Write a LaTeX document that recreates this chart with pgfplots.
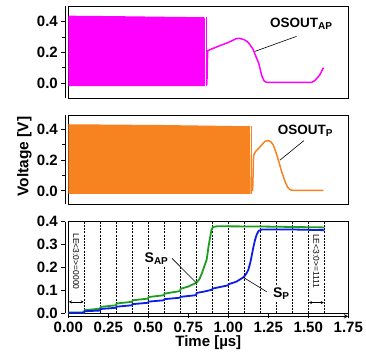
\documentclass[border=0pt]{standalone}
\usepackage{fontspec}
\setmainfont{Liberation Sans}
\usepackage{pgfplots}
\pgfplotsset{compat=1.18}
\usetikzlibrary{arrows.meta}
\definecolor{cmag}{RGB}{255,0,255}
\definecolor{corange}{RGB}{247,130,32}
\definecolor{cgreen}{RGB}{30,158,30}
\definecolor{cblue}{RGB}{12,30,230}
\newcommand{\sub}[1]{{\fontsize{10}{10}\selectfont\raisebox{-2pt}{#1}}}
\pgfplotsset{
  base/.style={
    scale only axis, width=280pt, xmin=0, xmax=1.75, clip=false,
    axis y line=left, axis y line shift=3pt,
    axis line style={line width=1pt,-},
    tick align=outside,
    major tick length=4pt, minor tick length=3pt,
    every tick/.append style={black, line width=0.9pt},
    tick label style={font=\fontsize{15}{17}\selectfont\bfseries},
    /pgf/number format/assume math mode=true,
  },
}
\begin{document}
\begin{tikzpicture}
% ---------- Panel 3 (bottom) ----------
\begin{axis}[base, at={(0pt,0pt)}, anchor=south west, height=91.6pt,
  ymin=0, ymax=0.4,
  axis x line=bottom, axis x line shift=3pt,
  ytick={0,0.1,0.2,0.3,0.4}, yticklabels={0.0,0.1,0.2,0.3,0.4},
  xtick={0,0.25,0.5,0.75,1,1.25,1.5,1.75},
  xticklabels={0.00,0.25,0.50,0.75,1.00,1.25,1.50,1.75}]
\draw[line width=1pt] (rel axis cs:0,0) rectangle (rel axis cs:1,1);
\pgfplotsinvokeforeach{0.1,0.2,0.3,0.4,0.5,0.6,0.7,0.8,0.9,1.0,1.1,1.2,1.3,1.4,1.5,1.6}{
  \draw[black, line width=0.5pt, dash pattern=on 2pt off 1.2pt] (axis cs:#1,0) -- (axis cs:#1,0.4);
}
\addplot[cgreen, line width=1.8pt] coordinates {
(0,0.003) (0.098,0.004) (0.102,0.014) (0.198,0.02) (0.202,0.028) (0.298,0.035)
(0.302,0.043) (0.398,0.05) (0.402,0.057) (0.498,0.064) (0.502,0.071) (0.598,0.079)
(0.602,0.086) (0.698,0.097) (0.702,0.107) (0.75,0.117) (0.80,0.133) (0.82,0.15)
(0.835,0.175) (0.85,0.205) (0.865,0.235) (0.876,0.29) (0.886,0.33) (0.895,0.365)
(0.905,0.377) (0.93,0.38) (1.2,0.379) (1.6,0.375)};
\addplot[cblue, line width=1.8pt] coordinates {
(0,0.002) (0.098,0.003) (0.102,0.009) (0.198,0.012) (0.202,0.019) (0.298,0.024)
(0.302,0.029) (0.398,0.035) (0.402,0.040) (0.498,0.046) (0.502,0.051) (0.598,0.057)
(0.602,0.062) (0.698,0.068) (0.702,0.072) (0.798,0.079) (0.802,0.089) (0.85,0.095)
(0.898,0.103) (0.902,0.108) (0.95,0.115) (0.998,0.122) (1.002,0.127) (1.05,0.138)
(1.094,0.157) (1.11,0.17) (1.125,0.19) (1.137,0.22) (1.146,0.25) (1.157,0.29)
(1.167,0.32) (1.178,0.345) (1.19,0.36) (1.21,0.366) (1.4,0.366) (1.6,0.363)};
\draw[black, line width=0.6pt] (axis cs:0.648,0.24) -- (axis cs:0.8,0.133);
\draw[black, line width=0.6pt] (axis cs:1.24,0.094) -- (axis cs:1.094,0.157);
\node[fill=white, inner sep=1.5pt, font=\fontsize{14}{15}\selectfont\bfseries] at (axis cs:0.55,0.24) {S\sub{AP}};
\node[fill=white, inner sep=1.5pt, font=\fontsize{14}{15}\selectfont\bfseries] at (axis cs:1.33,0.088) {S\sub{P}};
\node[rotate=-90, font=\fontsize{8.5}{9}\selectfont] at (axis cs:0.048,0.226) {LE<3:0>=0000};
\node[rotate=-90, font=\fontsize{8.5}{9}\selectfont] at (axis cs:1.55,0.228) {LE<3:0>=1111};
\draw[{Stealth[length=3pt,width=3pt]}-{Stealth[length=3pt,width=3pt]}, line width=0.6pt] (axis cs:0.004,0.05) -- (axis cs:0.096,0.05);
\draw[{Stealth[length=3pt,width=3pt]}-{Stealth[length=3pt,width=3pt]}, line width=0.6pt] (axis cs:1.504,0.047) -- (axis cs:1.596,0.047);
\node[anchor=base, font=\fontsize{15}{17}\selectfont\bfseries] at ([yshift=-33.4pt]axis description cs:0.5,0) {Time [µs]};
\end{axis}
% ---------- Panel 2 (middle) ----------
\begin{axis}[base, at={(0pt,109pt)}, anchor=south west, height=89.3pt,
  ymin=-0.087, ymax=0.493, axis x line=none,
  ytick={0,0.2,0.4}, yticklabels={0.0,0.2,0.4}, minor ytick={0.1,0.3}]
\draw[line width=1pt] (rel axis cs:0,0) rectangle (rel axis cs:1,1);
\addplot[draw=none, fill=corange] coordinates {(0,-0.02) (0,0.433) (0.6,0.428) (1.13,0.42) (1.135,0.425) (1.14,-0.02)} -- cycle;
\addplot[corange, line width=0.6pt] coordinates {(1.146,-0.02) (1.146,0.42)};
\addplot[corange, line width=1.5pt] coordinates {
(1.152,0.0) (1.158,0.23) (1.17,0.255) (1.19,0.277) (1.21,0.30) (1.229,0.322)
(1.25,0.327) (1.265,0.32) (1.28,0.30) (1.295,0.26) (1.31,0.21) (1.335,0.12)
(1.355,0.06) (1.37,0.025) (1.386,0.008) (1.40,0.004) (1.594,0.004)};
\draw[black, line width=0.6pt] (axis cs:1.473,0.327) -- (axis cs:1.323,0.2);
\node[font=\fontsize{13.5}{15}\selectfont\bfseries] at (axis cs:1.48,0.39) {OSOUT\sub{P}};
\node[rotate=90, font=\fontsize{15.5}{17}\selectfont\bfseries] at ([xshift=-44pt,yshift=3pt]axis description cs:0,0.5) {Voltage [V]};
\end{axis}
% ---------- Panel 1 (top) ----------
\begin{axis}[base, at={(0pt,215pt)}, anchor=south west, height=91.8pt,
  ymin=-0.1, ymax=0.5, axis x line=none,
  ytick={0,0.2,0.4}, yticklabels={0.0,0.2,0.4}, minor ytick={0.1,0.3}]
\draw[line width=1pt] (rel axis cs:0,0) rectangle (rel axis cs:1,1);
\addplot[draw=none, fill=cmag] coordinates {(0,-0.02) (0,0.44) (0.3,0.437) (0.6,0.433) (0.85,0.43) (0.853,0.42) (0.855,-0.02)} -- cycle;
\addplot[cmag, line width=0.6pt] coordinates {(0.861,-0.02) (0.861,0.43)};
\addplot[cmag, line width=1.5pt] coordinates {
(0.866,-0.01) (0.871,0.21) (0.88,0.215) (0.89,0.22) (0.95,0.245) (1.00,0.265)
(1.03,0.28) (1.05,0.29) (1.07,0.292) (1.10,0.283) (1.125,0.265) (1.155,0.22)
(1.17,0.18) (1.19,0.13) (1.21,0.045) (1.225,0.012) (1.24,0.004) (1.52,0.004)
(1.54,0.015) (1.57,0.05) (1.595,0.10)};
\draw[black, line width=0.6pt] (axis cs:1.427,0.305) -- (axis cs:1.167,0.207);
\node[font=\fontsize{13.5}{15}\selectfont\bfseries] at (axis cs:1.455,0.388) {OSOUT\sub{AP}};
\end{axis}
\pgfresetboundingbox
\useasboundingbox (-68.3pt,-40.7pt) rectangle (297.7pt,313.3pt);
\end{tikzpicture}
\end{document}
